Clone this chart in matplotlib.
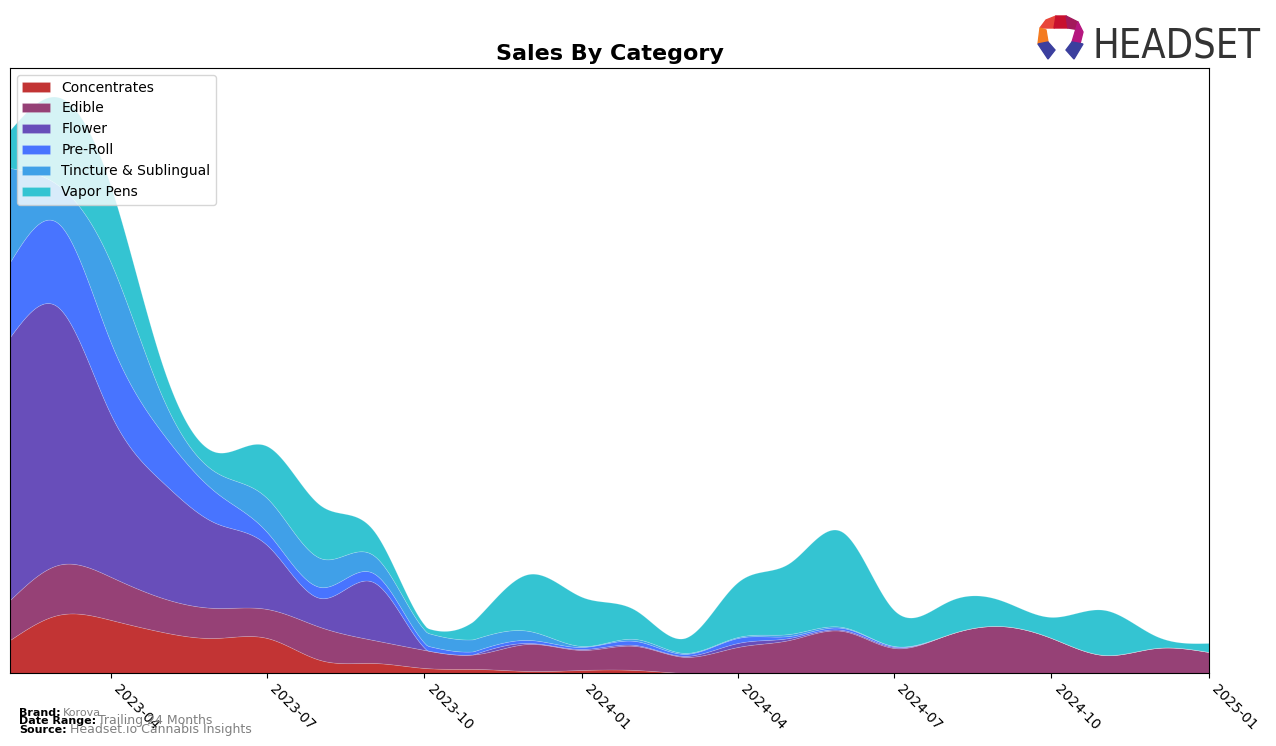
import numpy as np
import pandas as pd
import matplotlib
matplotlib.use("Agg")
import matplotlib.pyplot as plt
import matplotlib.dates as mdates
from matplotlib.patches import Polygon

# monthly sales by category (arbitrary units, y axis is hidden)
months = pd.date_range("2023-02-01", "2025-01-01", freq="MS")
concentrates = [33, 58, 53, 41, 35, 35, 13, 10, 5, 4, 2, 3,
                3, 0, 0, 0, 0, 0, 0, 0, 0, 0, 0, 0]
edible = [40, 50, 43, 34, 30, 29, 33, 23, 18, 15, 27, 20,
          24, 16, 26, 33, 42, 25, 38, 47, 35, 18, 25, 21]
flower = [263, 258, 162, 116, 85, 64, 29, 58, 2, 1, 1, 1,
          1, 1, 4, 2, 1, 1, 0, 0, 0, 0, 0, 0]
pre_roll = [75, 84, 72, 49, 31, 13, 11, 9, 5, 3, 3, 2,
            4, 2, 5, 2, 2, 1, 0, 0, 0, 0, 0, 0]
tincture = [94, 38, 80, 36, 20, 34, 29, 18, 13, 12, 9, 1,
            2, 1, 1, 2, 1, 0, 0, 0, 0, 0, 0, 0]
vapor_pens = [38, 88, 76, 32, 20, 52, 53, 25, 5, 21, 57, 49,
              29, 15, 55, 71, 95, 36, 33, 26, 21, 45, 12, 9]

categories = ["Concentrates", "Edible", "Flower", "Pre-Roll",
              "Tincture & Sublingual", "Vapor Pens"]
series = [concentrates, edible, flower, pre_roll, tincture, vapor_pens]
colors = ["#C23434", "#964176", "#684EBA", "#4874FF", "#40A0E8", "#34C4D2"]


def spline(x, y, xs):
    # natural cubic spline, just for drawing smooth curves
    x = np.asarray(x, float)
    y = np.asarray(y, float)
    n = len(x)
    h = np.diff(x)
    A = np.zeros((n, n))
    b = np.zeros(n)
    A[0, 0] = A[-1, -1] = 1
    for i in range(1, n - 1):
        A[i, i - 1] = h[i - 1]
        A[i, i] = 2 * (h[i - 1] + h[i])
        A[i, i + 1] = h[i]
        b[i] = 3 * ((y[i + 1] - y[i]) / h[i] - (y[i] - y[i - 1]) / h[i - 1])
    c = np.linalg.solve(A, b)
    bb = (y[1:] - y[:-1]) / h - h * (2 * c[:-1] + c[1:]) / 3
    d = (c[1:] - c[:-1]) / (3 * h)
    idx = np.clip(np.searchsorted(x, xs) - 1, 0, n - 2)
    t = xs - x[idx]
    return y[idx] + bb[idx] * t + c[idx] * t ** 2 + d[idx] * t ** 3


xnum = mdates.date2num(months)
xs = np.linspace(xnum[0], xnum[-1], 600)
smooth = [np.clip(spline(xnum, s, xs), 0, None) for s in series]

fig = plt.figure(figsize=(12.76, 7.46), dpi=100)
ax = fig.add_axes([0.0078, 0.0979, 0.9397, 0.8109])

ax.stackplot(xs, smooth, colors=colors, labels=categories,
             edgecolor=(1, 1, 1, 0.2), linewidth=0.5)

ax.set_xlim(xnum[0], xnum[-1])
ax.set_ylim(0, 605)
ax.set_yticks([])
ax.xaxis.set_major_locator(mdates.MonthLocator(bymonth=[1, 4, 7, 10]))
ax.xaxis.set_major_formatter(mdates.DateFormatter("%Y-%m"))
plt.setp(ax.get_xticklabels(), rotation=-45, ha="left", fontsize=10)

ax.set_title("Sales By Category", fontsize=16, fontweight="bold")
ax.legend(loc="upper left", fontsize=10, framealpha=0.8)

# footer
fig.text(0.015, 0.040, "Brand:", fontsize=8, fontweight="bold")
fig.text(0.049, 0.040, "Korova", fontsize=8, color="gray")
fig.text(0.015, 0.029, "Date Range:", fontsize=8, fontweight="bold")
fig.text(0.077, 0.029, "Trailing 24 Months", fontsize=9, color="gray")
fig.text(0.015, 0.018, "Source:", fontsize=8, fontweight="bold")
fig.text(0.055, 0.018, "Headset.io Cannabis Insights", fontsize=9, color="gray")

# logo
fig.text(0.856, 0.922, "HEADSET", fontsize=28.5, color="#333333",
         fontstretch="condensed", family=["DejaVu Sans"])
logo = [
    ([(1040, 28), (1046, 20), (1056, 16), (1054, 28)], "#E8463A"),
    ([(1056, 16), (1066, 16), (1068, 28), (1054, 28)], "#C8102E"),
    ([(1066, 16), (1078, 22), (1080, 30), (1068, 28)], "#A3195B"),
    ([(1078, 22), (1083, 32), (1080, 44), (1072, 42)], "#B5177F"),
    ([(1040, 28), (1046, 30), (1048, 42), (1038, 44)], "#F47B20"),
    ([(1038, 44), (1048, 42), (1055, 50), (1048, 59)], "#3B3F9E"),
    ([(1072, 42), (1083, 44), (1074, 59), (1066, 50)], "#3B3F9E"),
]
for pts, c in logo:
    fig.patches.append(Polygon([(px / 1276, 1 - py / 746) for px, py in pts],
                               closed=True, color=c, transform=fig.transFigure))

fig.savefig("out.png", dpi=100)
